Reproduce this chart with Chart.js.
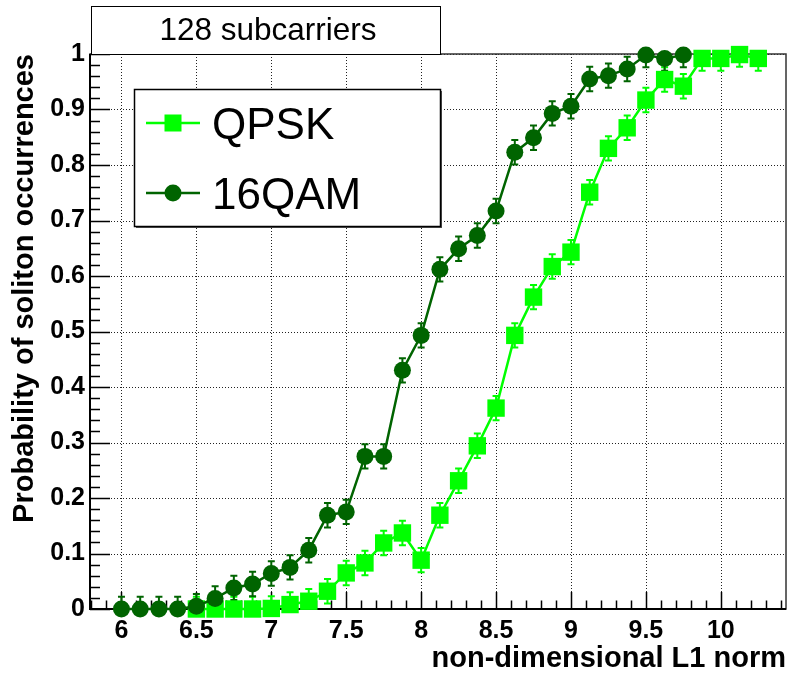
<!DOCTYPE html>
<html>
<head>
<meta charset="utf-8">
<title>Soliton occurrences</title>
<script src="https://cdn.jsdelivr.net/npm/chart.js@4.4.1/dist/chart.umd.min.js"></script>
<style>
  html, body { margin: 0; padding: 0; background: #fff; }
  #chart { display: block; }
</style>
</head>
<body>
<canvas id="chart" width="790" height="675"></canvas>
<script>
// === Data ===
const qpskX = [6.5, 6.625, 6.75, 6.875, 7.0, 7.125, 7.25, 7.375, 7.5, 7.625, 7.75, 7.875,
  8.0, 8.125, 8.25, 8.375, 8.5, 8.625, 8.75, 8.875, 9.0, 9.125, 9.25, 9.375,
  9.5, 9.625, 9.75, 9.875, 10.0, 10.125, 10.25];
const qpskY = [0, 0, 0, 0, 0.001, 0.008, 0.014, 0.032, 0.065, 0.083, 0.119, 0.137,
  0.088, 0.169, 0.231, 0.294, 0.362, 0.493, 0.562, 0.617, 0.643, 0.751, 0.830, 0.867,
  0.917, 0.954, 0.942, 0.992, 0.992, 0.999, 0.992];
const qamX = [6.0, 6.125, 6.25, 6.375, 6.5, 6.625, 6.75, 6.875, 7.0, 7.125, 7.25, 7.375,
  7.5, 7.625, 7.75, 7.875, 8.0, 8.125, 8.25, 8.375, 8.5, 8.625, 8.75, 8.875,
  9.0, 9.125, 9.25, 9.375, 9.5, 9.625, 9.75];
const qamY = [0, 0, 0, 0, 0.005, 0.019, 0.038, 0.045, 0.064, 0.075, 0.106, 0.169,
  0.175, 0.275, 0.275, 0.430, 0.493, 0.612, 0.649, 0.673, 0.717, 0.823, 0.849, 0.893,
  0.906, 0.955, 0.961, 0.973, 0.998, 0.992, 0.998];
const qpskErr = 0.022;
const qamErr = 0.022;

const xTicks = [6, 6.5, 7, 7.5, 8, 8.5, 9, 9.5, 10];
const xTickLabels = ['6', '6.5', '7', '7.5', '8', '8.5', '9', '9.5', '10'];
const yTicks = [0, 0.1, 0.2, 0.3, 0.4, 0.5, 0.6, 0.7, 0.8, 0.9, 1];
const yTickLabels = ['0', '0.1', '0.2', '0.3', '0.4', '0.5', '0.6', '0.7', '0.8', '0.9', '1'];

const QPSK_COLOR = '#00ff00';
const QAM_COLOR = '#006400';
const FONT = "'Liberation Sans', Arial, Helvetica, sans-serif";

const toPoints = (xs, ys) => xs.map((x, i) => ({ x: x, y: ys[i] }));

// === Frame, grid, inner ticks, error bars ===
const framePlugin = {
  id: 'frame',
  beforeDatasetsDraw(chart) {
    const { ctx, chartArea: a, scales: { x, y } } = chart;
    ctx.save();

    // dotted grid at major ticks
    ctx.strokeStyle = '#222';
    ctx.lineWidth = 1;
    ctx.setLineDash([1, 2]);
    ctx.beginPath();
    xTicks.forEach(v => {
      const px = Math.round(x.getPixelForValue(v)) + 0.5;
      ctx.moveTo(px, a.top); ctx.lineTo(px, a.bottom);
    });
    yTicks.forEach(v => {
      const py = Math.round(y.getPixelForValue(v)) + 0.5;
      ctx.moveTo(a.left, py); ctx.lineTo(a.right, py);
    });
    ctx.stroke();
    ctx.setLineDash([]);

    // frame
    ctx.strokeStyle = '#333';
    ctx.lineWidth = 1.5;
    ctx.strokeRect(a.left, a.top, a.right - a.left, a.bottom - a.top);

    // axis lines
    ctx.strokeStyle = '#000';
    ctx.lineWidth = 2;
    ctx.beginPath();
    ctx.moveTo(a.left, a.top); ctx.lineTo(a.left, a.bottom); ctx.lineTo(a.right, a.bottom);
    ctx.stroke();

    // ticks pointing into the frame
    ctx.lineWidth = 1.5;
    ctx.beginPath();
    for (let k = 58; k <= 104; k++) {
      const px = Math.round(x.getPixelForValue(k / 10)) + 0.5;
      const len = k % 5 === 0 ? 17 : 8.5;
      ctx.moveTo(px, a.bottom); ctx.lineTo(px, a.bottom - len);
    }
    for (let k = 0; k <= 50; k++) {
      const py = Math.round(y.getPixelForValue(k / 50)) + 0.5;
      const len = k % 5 === 0 ? 20 : 10;
      ctx.moveTo(a.left, py); ctx.lineTo(a.left + len, py);
    }
    ctx.stroke();

    // x tick labels
    ctx.fillStyle = '#000';
    ctx.font = 'bold 25px ' + FONT;
    ctx.textAlign = 'center';
    ctx.textBaseline = 'middle';
    xTicks.forEach((v, i) => {
      ctx.fillText(xTickLabels[i], x.getPixelForValue(v), a.bottom + 22);
    });

    // error bars, clipped to the frame
    ctx.beginPath();
    ctx.rect(a.left, a.top, a.right - a.left, a.bottom - a.top);
    ctx.clip();
    const bars = [[qpskX, qpskY, qpskErr, QPSK_COLOR], [qamX, qamY, qamErr, QAM_COLOR]];
    bars.forEach(([xs, ys, err, color]) => {
      ctx.strokeStyle = color;
      ctx.lineWidth = 2;
      ctx.beginPath();
      xs.forEach((xv, i) => {
        const px = x.getPixelForValue(xv);
        const hi = y.getPixelForValue(ys[i] + err);
        const lo = y.getPixelForValue(ys[i] - err);
        ctx.moveTo(px, hi); ctx.lineTo(px, lo);
        ctx.moveTo(px - 3.5, hi); ctx.lineTo(px + 3.5, hi);
        ctx.moveTo(px - 3.5, lo); ctx.lineTo(px + 3.5, lo);
      });
      ctx.stroke();
    });
    ctx.restore();
  },
  afterDraw(chart) {
    const { ctx } = chart;
    ctx.save();

    // title box above the frame
    ctx.fillStyle = '#fff';
    ctx.fillRect(91, 6, 349, 48);
    ctx.strokeStyle = '#000';
    ctx.lineWidth = 1;
    ctx.strokeRect(91.5, 6.5, 349, 48);
    ctx.fillStyle = '#000';
    ctx.font = '31.5px ' + FONT;
    ctx.textAlign = 'center';
    ctx.textBaseline = 'middle';
    ctx.fillText('128 subcarriers', 268, 31);

    // legend box
    ctx.fillStyle = '#555';
    ctx.fillRect(136, 91, 306, 137);
    ctx.fillStyle = '#fff';
    ctx.fillRect(134.5, 89.5, 306, 137);
    ctx.strokeStyle = '#000';
    ctx.lineWidth = 1.5;
    ctx.strokeRect(134.5, 89.5, 306, 137);

    const entries = [
      { label: 'QPSK', color: QPSK_COLOR, style: 'rect', y: 123 },
      { label: '16QAM', color: QAM_COLOR, style: 'circle', y: 193 }
    ];
    entries.forEach(e => {
      ctx.strokeStyle = e.color;
      ctx.lineWidth = 2.5;
      ctx.beginPath();
      ctx.moveTo(146, e.y); ctx.lineTo(200, e.y);
      ctx.stroke();
      ctx.fillStyle = e.color;
      if (e.style === 'rect') {
        ctx.fillRect(164.5, e.y - 8.5, 17, 17);
      } else {
        ctx.beginPath();
        ctx.arc(173, e.y, 8.5, 0, Math.PI * 2);
        ctx.fill();
      }
      ctx.fillStyle = '#000';
      ctx.font = '44px ' + FONT;
      ctx.textAlign = 'left';
      ctx.textBaseline = 'alphabetic';
      ctx.fillText(e.label, 212, e.y + 16);
    });
    ctx.restore();
  }
};

// === Chart ===
const ctx = document.getElementById('chart');
new Chart(ctx, {
  type: 'scatter',
  data: {
    datasets: [
      {
        label: 'QPSK',
        data: toPoints(qpskX, qpskY),
        showLine: true,
        borderColor: QPSK_COLOR,
        borderWidth: 2.5,
        pointStyle: 'rect',
        pointRadius: 12.3,
        pointBackgroundColor: QPSK_COLOR,
        pointBorderWidth: 0,
        clip: false,
        order: 1
      },
      {
        label: '16QAM',
        data: toPoints(qamX, qamY),
        showLine: true,
        borderColor: QAM_COLOR,
        borderWidth: 2.5,
        pointStyle: 'circle',
        pointRadius: 8.5,
        pointBackgroundColor: QAM_COLOR,
        pointBorderWidth: 0,
        clip: false,
        order: 0
      }
    ]
  },
  options: {
    responsive: false,
    animation: false,
    devicePixelRatio: 1,
    layout: { autoPadding: false, padding: { top: 54, right: 4, left: 0, bottom: 0 } },
    plugins: {
      legend: { display: false },
      tooltip: { enabled: false }
    },
    scales: {
      x: {
        type: 'linear',
        min: 5.79,
        max: 10.435,
        afterBuildTicks: s => { s.ticks = xTicks.map(v => ({ value: v })); },
        afterFit: s => { s.height = 66; },
        grid: { display: false, drawTicks: false },
        border: { display: false },
        ticks: { display: false },
        title: {
          display: true,
          text: 'non-dimensional L1 norm',
          align: 'end',
          color: '#000',
          font: { family: FONT, size: 29, weight: 'bold', lineHeight: 1.1 },
          padding: { top: 0, bottom: 0 }
        }
      },
      y: {
        type: 'linear',
        min: 0,
        max: 1,
        afterBuildTicks: s => { s.ticks = yTicks.map(v => ({ value: v })); },
        afterFit: s => { s.width = 90; },
        grid: { display: false, drawTicks: false },
        border: { display: false },
        ticks: {
          autoSkip: false,
          padding: 5,
          color: '#000',
          font: { family: FONT, size: 25, weight: 'bold' },
          callback: (v, i) => yTickLabels[i]
        },
        title: {
          display: true,
          text: 'Probability of soliton occurrences',
          align: 'end',
          color: '#000',
          font: { family: FONT, size: 29, weight: 'bold' },
          padding: { top: 8, bottom: 0 }
        }
      }
    }
  },
  plugins: [framePlugin]
});
</script>
</body>
</html>
